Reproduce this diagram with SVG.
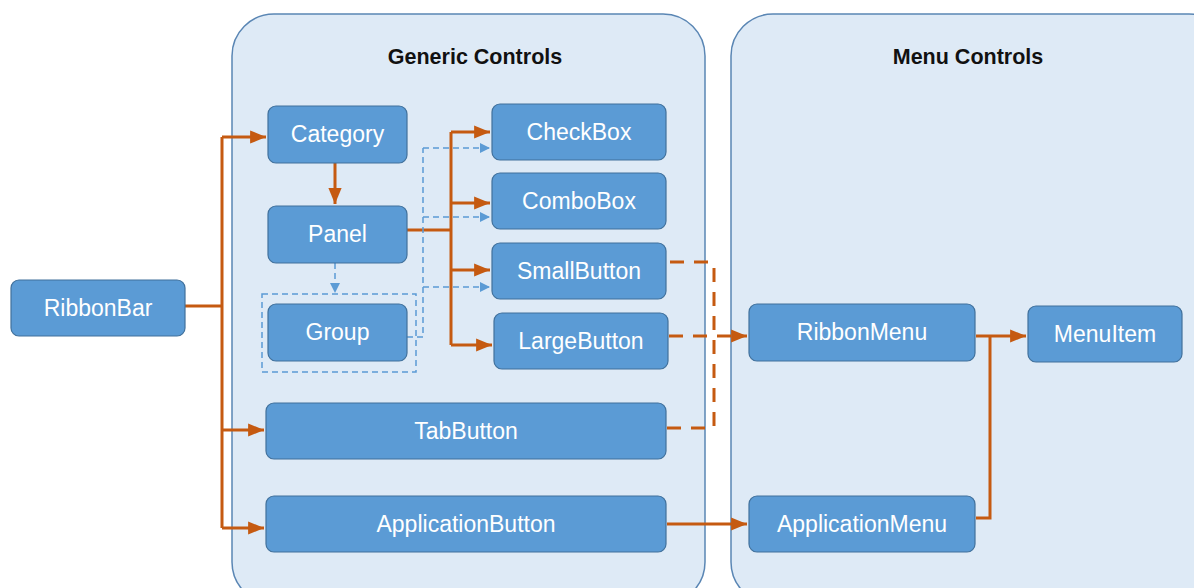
<svg xmlns="http://www.w3.org/2000/svg" width="1194" height="588" viewBox="0 0 1194 588">
<style>
.cont{fill:#deeaf6;stroke:#5a86b4;stroke-width:1.5}
.title{font-family:"Liberation Sans",Arial,sans-serif;font-weight:bold;font-size:21.5px;fill:#111;text-anchor:middle}
.node rect{fill:#5b9bd5;stroke:#41719c;stroke-width:1.2}
.node text{font-family:"Liberation Sans",Arial,sans-serif;font-size:23px;fill:#fff;text-anchor:middle}
.or{fill:none;stroke:#c55a11;stroke-width:3}
.ord{fill:none;stroke:#c55a11;stroke-width:3;stroke-dasharray:14 10}
.bd{fill:none;stroke:#5b9bd5;stroke-width:1.5;stroke-dasharray:6 4}
</style>
<defs>
<marker id="ao" viewBox="0 0 10 10" refX="10" refY="5" markerWidth="5.3" markerHeight="4.4" orient="auto" markerUnits="strokeWidth" preserveAspectRatio="none">
<path d="M0,0 L10,5 L0,10 z" fill="#c55a11"/>
</marker>
<marker id="ab" viewBox="0 0 10 10" refX="10" refY="5" markerWidth="7" markerHeight="7" orient="auto" markerUnits="strokeWidth" preserveAspectRatio="none">
<path d="M0,0 L10,5 L0,10 z" fill="#5b9bd5"/>
</marker>
</defs>
<rect width="1194" height="588" fill="#fff"/>
<g id="generic-controls">
<rect class="cont" x="232" y="14" width="473" height="590" rx="42"/>
<text class="title" x="475" y="64">Generic Controls</text>
</g>
<g id="menu-controls">
<rect class="cont" x="731" y="14" width="500" height="590" rx="42"/>
<text class="title" x="968" y="64">Menu Controls</text>
</g>
<g id="connectors">
<path class="or" d="M185,306 H222"/>
<path class="or" d="M222,137 V528"/>
<path class="or" d="M222,137 H266" marker-end="url(#ao)"/>
<path class="or" d="M222,430 H264" marker-end="url(#ao)"/>
<path class="or" d="M222,528 H264" marker-end="url(#ao)"/>
<path class="or" d="M335,163 V204" marker-end="url(#ao)"/>
<path class="bd" d="M335,263 V293" marker-end="url(#ab)"/>
<rect class="bd" x="262" y="294" width="154" height="78"/>
<path class="or" d="M407,230 H451"/>
<path class="or" d="M451,132 V345"/>
<path class="or" d="M451,132 H490" marker-end="url(#ao)"/>
<path class="or" d="M451,203 H490" marker-end="url(#ao)"/>
<path class="or" d="M451,270 H490" marker-end="url(#ao)"/>
<path class="or" d="M451,345 H492" marker-end="url(#ao)"/>
<path class="bd" d="M407,337 H423 V148"/>
<path class="bd" d="M423,148 H490" marker-end="url(#ab)"/>
<path class="bd" d="M423,217 H490" marker-end="url(#ab)"/>
<path class="bd" d="M423,287 H490" marker-end="url(#ab)"/>
<path class="ord" d="M670,262 H709"/>
<path class="ord" d="M714,268 V428"/>
<path class="ord" d="M667,428 H705"/>
<path class="ord" d="M669,336 H747" marker-end="url(#ao)"/>
<path class="or" d="M667,524 H747" marker-end="url(#ao)"/>
<path class="or" d="M976,336 H1026" marker-end="url(#ao)"/>
<path class="or" d="M990,336 V518 H976"/>
</g>
<g id="RibbonBar" class="node"><rect x="11" y="280" width="174" height="56" rx="8"/><text x="98" y="316">RibbonBar</text></g>
<g id="Category" class="node"><rect x="268" y="106" width="139" height="57" rx="8"/><text x="337.5" y="142">Category</text></g>
<g id="Panel" class="node"><rect x="268" y="206" width="139" height="57" rx="8"/><text x="337.5" y="242">Panel</text></g>
<g id="Group" class="node"><rect x="268" y="304" width="139" height="57" rx="8"/><text x="337.5" y="340">Group</text></g>
<g id="CheckBox" class="node"><rect x="492" y="104" width="174" height="56" rx="8"/><text x="579" y="140">CheckBox</text></g>
<g id="ComboBox" class="node"><rect x="492" y="173" width="174" height="56" rx="8"/><text x="579" y="209">ComboBox</text></g>
<g id="SmallButton" class="node"><rect x="492" y="243" width="174" height="56" rx="8"/><text x="579" y="279">SmallButton</text></g>
<g id="LargeButton" class="node"><rect x="494" y="313" width="174" height="56" rx="8"/><text x="581" y="349">LargeButton</text></g>
<g id="TabButton" class="node"><rect x="266" y="403" width="400" height="56" rx="8"/><text x="466" y="439">TabButton</text></g>
<g id="ApplicationButton" class="node"><rect x="266" y="496" width="400" height="56" rx="8"/><text x="466" y="532">ApplicationButton</text></g>
<g id="RibbonMenu" class="node"><rect x="749" y="304" width="226" height="57" rx="8"/><text x="862" y="340">RibbonMenu</text></g>
<g id="ApplicationMenu" class="node"><rect x="749" y="496" width="226" height="56" rx="8"/><text x="862" y="532">ApplicationMenu</text></g>
<g id="MenuItem" class="node"><rect x="1028" y="306" width="154" height="56" rx="8"/><text x="1105" y="342">MenuItem</text></g>
</svg>
